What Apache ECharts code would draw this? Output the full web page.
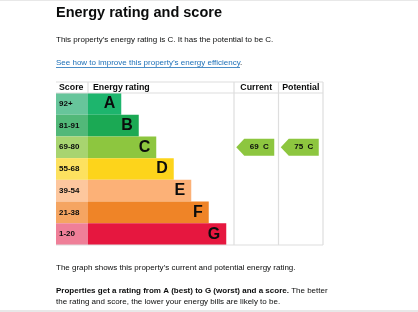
<!DOCTYPE html>
<html><head><meta charset="utf-8">
<script src="https://cdn.jsdelivr.net/npm/echarts@6/dist/echarts.min.js"></script>
<style>html,body{margin:0;padding:0;background:#fff}#c{width:418px;height:312px}</style>
</head><body><div id="c"></div>
<script>
var bands = ['A','B','C','D','E','F','G'];
var scoreRanges = ['92+','81-91','69-80','55-68','39-54','21-38','1-20'];
var ratingBarLength = [1.9, 2.9, 3.9, 4.9, 5.9, 6.9, 7.9];
var bandColors = ['#1db56d','#1ba954','#8dc63f','#fdd41b','#fcb177','#ef8427','#e6173f'];
var scoreColors = ['#67c59b','#52b879','#a8d470','#fde15f','#fdc79e','#f5a562','#ef7f98'];
var columns = ['Current','Potential'];
var currentScore = 69, currentBand = 'C';
var potentialScore = 75, potentialBand = 'C';

var BODY = "'Liberation Sans',Arial,sans-serif";
var TABLE = "'Liberation Sans',Arial,sans-serif";
var INK = '#0b0c0c';
var LINE = '#dedede';
var FS = 8;

var chart = echarts.init(document.getElementById('c'), null, {renderer:'canvas'});
var top0 = 93, h0 = 152;

function txt(x, y, s, size, weight, color, font) {
  return {type:'text', x:x, y:y, style:{text:s, fontSize:size, fontWeight:weight||'normal', fill:color||INK, fontFamily:font||BODY, textVerticalAlign:'middle', textAlign:'left'}};
}
function ln(x1,y1,x2,y2,c,w){return {type:'line', shape:{x1:x1,y1:y1,x2:x2,y2:y2}, style:{stroke:c||LINE, lineWidth:w||1.2}, z:10};}

var arrowPath = 'path://M0,8.5 L8,0 L38,0 L38,17 L8,17 Z';

chart.setOption({
  animation:false,
  grid:[
    {left:56, top:top0, width:32, height:h0},
    {left:88, top:top0, width:146, height:h0},
    {left:234, top:top0, width:89, height:h0}
  ],
  xAxis:[
    {gridIndex:0, type:'value', min:0, max:1, show:false},
    {gridIndex:1, type:'value', min:0, max:146/17.5, show:false},
    {gridIndex:2, type:'category', data:columns, position:'top', axisLine:{show:false}, axisTick:{show:false},
     axisLabel:{interval:0, fontFamily:TABLE, fontWeight:'bold', fontSize:8.8, color:INK, margin:5, verticalAlign:'middle'},
     splitLine:{show:false}}
  ],
  yAxis:[
    {gridIndex:0, type:'category', data:bands, inverse:true, show:false},
    {gridIndex:1, type:'category', data:bands, inverse:true, show:false},
    {gridIndex:2, type:'category', data:bands, inverse:true, show:false}
  ],
  series:[
    {type:'bar', xAxisIndex:0, yAxisIndex:0, barCategoryGap:'0%',
     data: scoreRanges.map(function(s,i){return {value:1, name:s, itemStyle:{color:scoreColors[i]}};}),
     label:{show:true, position:'insideLeft', distance:3, formatter:function(p){return scoreRanges[p.dataIndex];},
            fontFamily:TABLE, fontWeight:'bold', fontSize:8, color:INK}},
    {type:'bar', xAxisIndex:1, yAxisIndex:1, barCategoryGap:'0%',
     data: ratingBarLength.map(function(v,i){return {value:v, itemStyle:{color:bandColors[i]}};}),
     label:{show:true, position:'insideRight', distance:6, formatter:function(p){return bands[p.dataIndex];},
            fontFamily:TABLE, fontWeight:'bold', fontSize:16, color:INK}},
    {type:'scatter', xAxisIndex:2, yAxisIndex:2, symbol:arrowPath, symbolSize:[38,17], symbolOffset:[-1,0],
     itemStyle:{color:'#8dc63f', opacity:1},
     data:[[columns[0], currentBand, currentScore],[columns[1], potentialBand, potentialScore]],
     label:{show:true, position:'inside', offset:[4,0], formatter:function(p){return p.value[2]+'  '+p.value[1];},
            fontFamily:TABLE, fontWeight:'bold', fontSize:8, color:INK}}
  ],
  graphic:[
    ln(0,0.5,418,0.5,'#e8e8e8',1),
    ln(0,311,418,311,'#e8e8e8',2),
    txt(56, 13, 'Energy rating and score', 14.5, 'bold'),
    txt(56, 40, "This property\u2019s energy rating is C. It has the potential to be C.", FS),
    {type:'text', x:56, y:63, style:{text:"See how to improve this property\u2019s energy efficiency", fontSize:FS, fill:'#1d70b8', fontFamily:BODY, textVerticalAlign:'middle'}},
    ln(56,67.5,240,67.5,'#1d70b8',0.8),
    txt(240, 63, '.', FS),
    txt(59, 88, 'Score', 8.8, 'bold', INK, TABLE),
    txt(93, 88, 'Energy rating', 8.8, 'bold', INK, TABLE),
    ln(56,82,323,82), ln(56,93,323,93), ln(56,245,323,245),
    ln(88,82,88,93), ln(234,82,234,245), ln(278.5,82,278.5,245), ln(323,82,323,245),
    txt(56, 268, "The graph shows this property\u2019s current and potential energy rating.", FS),
    {type:'text', x:56, y:291, style:{text:'{b|Properties get a rating from A (best) to G (worst) and a score.} The better', rich:{b:{fontWeight:'bold', fontSize:FS, fontFamily:BODY, fill:INK}}, fontSize:FS, fill:INK, fontFamily:BODY, textVerticalAlign:'middle'}},
    txt(56, 302, 'the rating and score, the lower your energy bills are likely to be.', FS)
  ]
});
</script></body></html>
